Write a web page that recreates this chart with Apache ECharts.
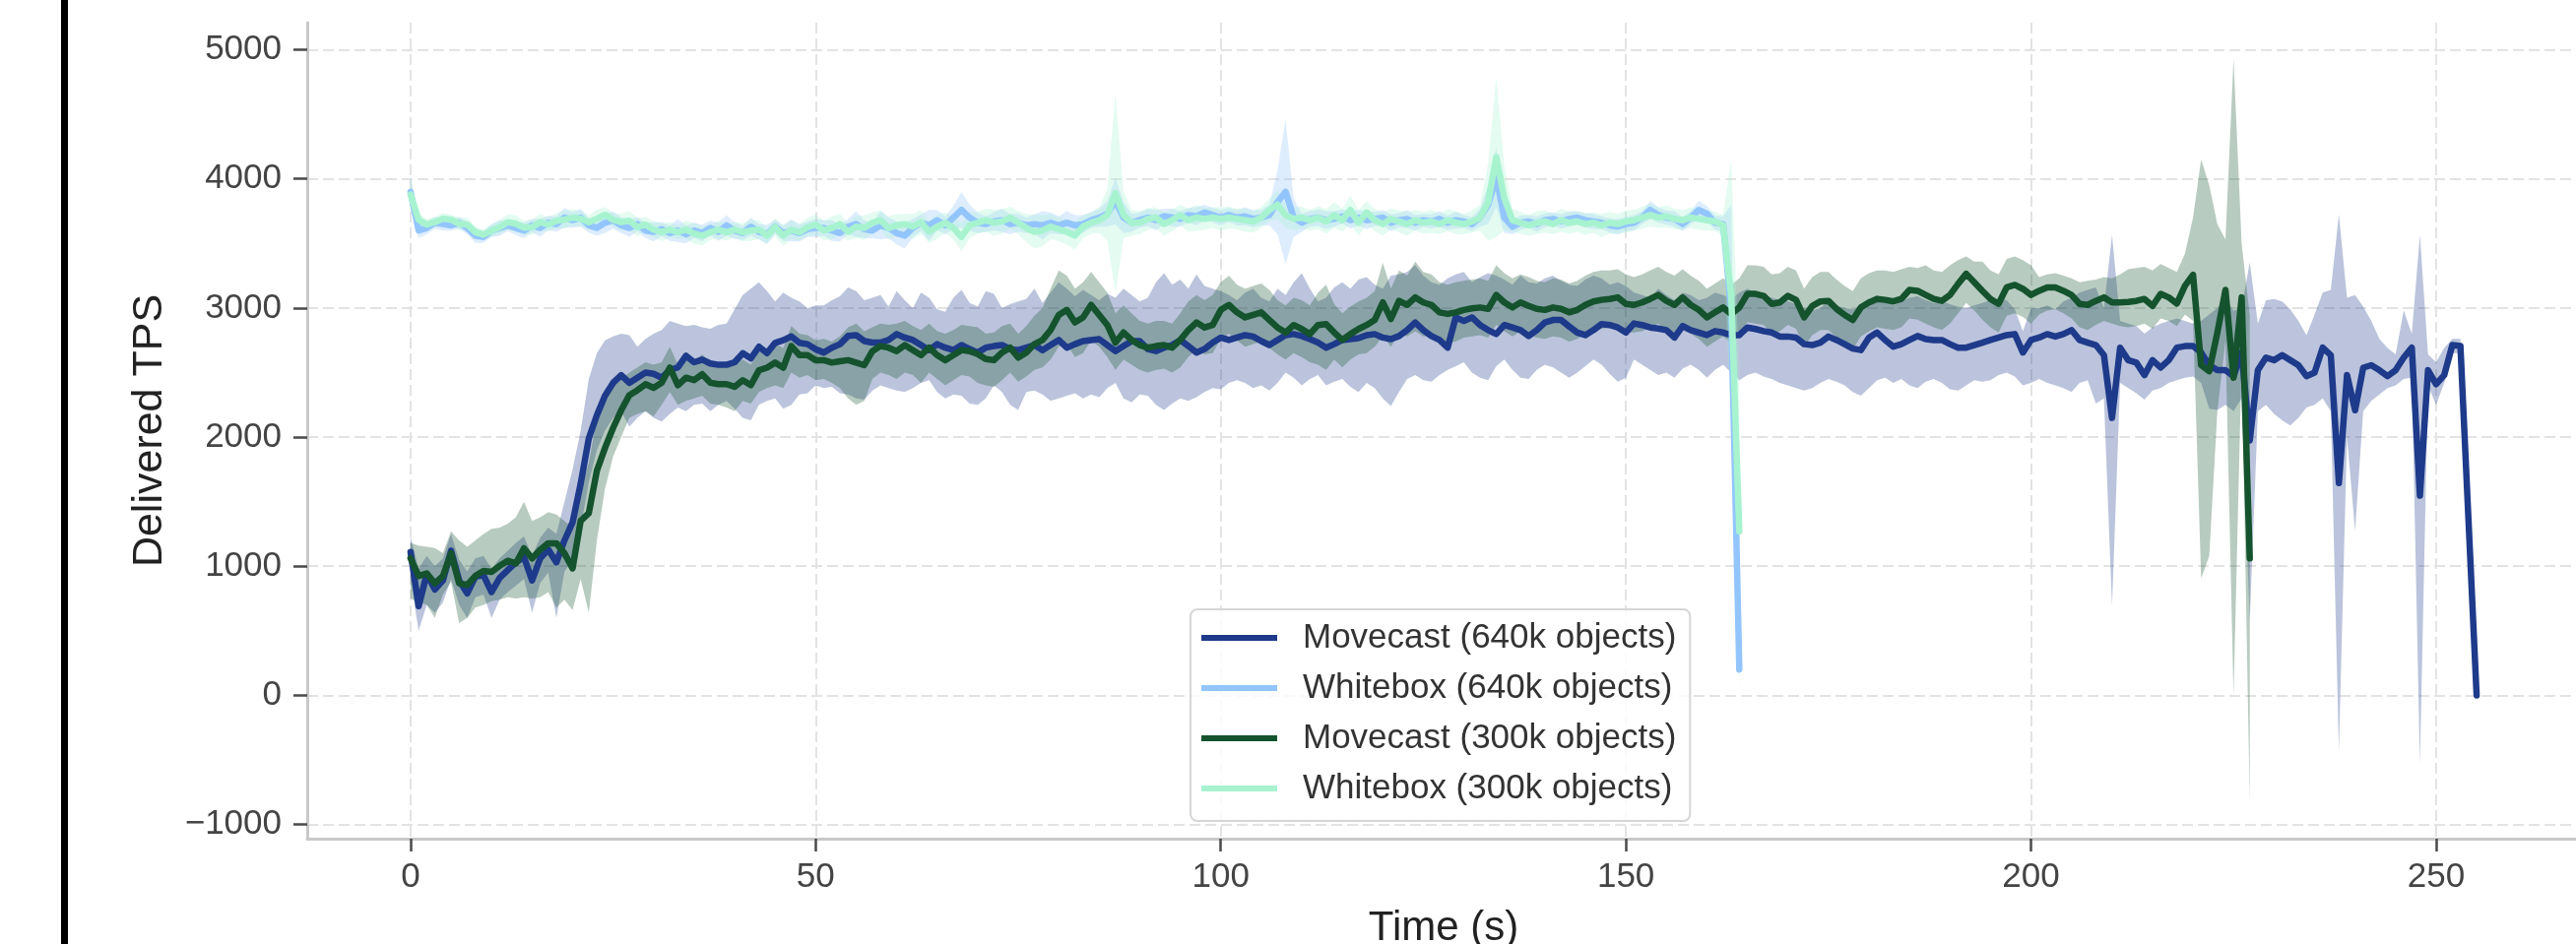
<!DOCTYPE html>
<html>
<head>
<meta charset="utf-8">
<script src="https://cdn.jsdelivr.net/npm/echarts@6/dist/echarts.min.js"></script>
<style>html,body{margin:0;padding:0;background:#fff;}#c{width:2616px;height:959px;}</style>
</head>
<body>
<div id="c"></div>
<script>
// ---------------- data ----------------
const seconds = [0,1,2,3,4,5,6,7,8,9,10,11,12,13,14,15,16,17,18,19,20,21,22,23,24,25,26,27,28,29,30,31,32,33,34,35,36,37,38,39,40,41,42,43,44,45,46,47,48,49,50,51,52,53,54,55,56,57,58,59,60,61,62,63,64,65,66,67,68,69,70,71,72,73,74,75,76,77,78,79,80,81,82,83,84,85,86,87,88,89,90,91,92,93,94,95,96,97,98,99,100,101,102,103,104,105,106,107,108,109,110,111,112,113,114,115,116,117,118,119,120,121,122,123,124,125,126,127,128,129,130,131,132,133,134,135,136,137,138,139,140,141,142,143,144,145,146,147,148,149,150,151,152,153,154,155,156,157,158,159,160,161,162,163,164,165,166,167,168,169,170,171,172,173,174,175,176,177,178,179,180,181,182,183,184,185,186,187,188,189,190,191,192,193,194,195,196,197,198,199,200,201,202,203,204,205,206,207,208,209,210,211,212,213,214,215,216,217,218,219,220,221,222,223,224,225,226,227,228,229,230,231,232,233,234,235,236,237,238,239,240,241,242,243,244,245,246,247,248,249,250,251,252,253,254,255];

const seriesNames = ['Movecast (640k objects)', 'Whitebox (640k objects)', 'Movecast (300k objects)', 'Whitebox (300k objects)'];
const seriesColors = ['#1e3a8a', '#93c5fd', '#14532d', '#a7f3d0'];
const xTicks = [0, 50, 100, 150, 200, 250];
const yTicks = [-1000, 0, 1000, 2000, 3000, 4000, 5000];

// Movecast (640k objects): mean and CI, t = 0..255
const movecast640Mean = [1110,690,940,820,890,1120,890,790,920,930,800,910,970,1030,1070,890,1060,1130,1030,1200,1340,
1640,1990,2170,2320,2420,2480,2420,2460,2500,2490,2460,2520,2540,2630,2580,2600,2570,2560,2560,2580,2650,2610,2700,2650,2730,2750,2780,2730,2720,2680,
2655,2693,2720,2783,2790,2744,2732,2732,2752,2798,2771,2752,2713,2674,2720,2693,2674,2713,2682,2655,2693,2705,2713,2682,2674,2693,2713,2674,2713,2752,2693,2720,2744,2752,2759,2713,2666,2705,2744,2744,2682,2666,2693,2713,2752,2705,2655,2682,2732,2771,
2752,2771,2790,2779,2744,2713,2752,2790,2798,2783,2759,2732,2693,2720,2752,2759,2767,2790,2798,2771,2759,2783,2829,2888,2829,2783,2752,2693,2927,2899,2927,2868,2829,2798,2868,2849,2829,2783,2829,2888,2907,2907,2857,2810,2790,2829,2876,2868,2849,2810,
2880,2868,2849,2841,2829,2771,2860,2829,2810,2790,2821,2810,2790,2790,2849,2837,2821,2810,2779,2779,2771,2720,2713,2732,2779,2752,2720,2686,2674,2771,2810,2752,2701,2720,2752,2783,2759,2752,2752,2720,2693,2693,2713,2732,2752,2771,2790,2798,2655,2752,
2771,2798,2779,2798,2829,2752,2732,2713,2635,2149,2693,2596,2577,2480,2596,2538,2596,2693,2705,2705,2655,2557,2518,2518,2472,2655,1974,2518,2616,2596,2635,2596,2557,2472,2499,2693,2635,1644,2480,2208,2538,2557,2518,2472,2518,2616,2693,1547,2518,2410,2480,2713,2705,1352,0];
const movecast640Low = [900,500,700,640,720,900,700,600,760,780,600,740,800,850,900,640,870,950,600,960,1050,
1300,1650,1900,2050,2150,2200,2080,2150,2200,2150,2120,2180,2230,2200,2250,2260,2200,2250,2280,2220,2150,2130,2250,2280,2300,2220,2250,2330,2340,2400,
2380,2390,2340,2330,2300,2290,2360,2400,2380,2360,2350,2380,2420,2440,2350,2300,2330,2320,2260,2250,2300,2400,2350,2250,2210,2350,2360,2330,2280,2300,2320,2340,2300,2330,2310,2380,2420,2300,2270,2330,2320,2250,2210,2260,2300,2280,2310,2350,2380,2370,
2420,2440,2420,2380,2400,2360,2420,2500,2460,2400,2450,2480,2400,2430,2450,2390,2350,2420,2380,2300,2240,2350,2450,2480,2440,2430,2480,2520,2550,2580,2500,2460,2440,2550,2600,2520,2460,2450,2520,2560,2540,2500,2460,2500,2550,2600,2560,2490,2430,2460,
2600,2560,2520,2480,2500,2460,2530,2560,2520,2460,2520,2560,2500,2440,2480,2500,2470,2450,2420,2400,2380,2360,2380,2420,2450,2430,2400,2350,2320,2380,2440,2460,2420,2450,2400,2380,2430,2450,2420,2370,2360,2400,2440,2430,2440,2480,2500,2470,2400,2420,
2450,2420,2400,2380,2350,2420,2440,2260,2300,692,2420,2380,2340,2290,2360,2380,2420,2440,2460,2470,2420,2220,2210,2250,2200,2300,575,2200,2250,2180,2130,2090,2150,2230,2250,2300,2200,-435,2000,1275,2200,2280,2330,2380,2400,2450,2460,-532,2400,2250,2420,2650,2650,1352,0];
const movecast640High = [1230,980,1080,1000,1060,1250,1050,960,1060,1080,980,1060,1120,1180,1230,1080,1220,1300,1250,1500,1750,
2050,2450,2650,2750,2780,2800,2790,2700,2760,2800,2830,2900,2880,2860,2870,2850,2840,2870,2880,2990,3100,3150,3200,3130,3050,3120,3080,3050,3000,3020,
3020,3060,3090,3160,3130,3060,3080,3100,3010,3130,3060,3000,3120,3080,2990,2970,3080,3140,3040,3010,3130,3110,3000,3030,3050,3070,3150,3040,3120,3200,3150,3090,3140,3100,3060,3110,3080,3150,3100,3050,3080,3200,3270,3180,3220,3150,3260,3170,3150,3130,
3100,3060,3120,3150,3080,3050,3150,3100,3200,3270,3150,3050,3080,3160,3200,3150,3220,3240,3180,3150,3250,3260,3280,3330,3250,3200,3180,3230,3260,3280,3200,3240,3270,3250,3220,3180,3250,3200,3190,3230,3250,3210,3180,3170,3220,3250,3230,3180,3200,3170,
3120,3100,3080,3150,3100,3060,3120,3100,3060,3080,3120,3100,3070,3120,3150,3120,3100,3080,3060,3050,3030,3000,2980,3000,3050,3020,3000,2990,3010,3060,3100,3060,3020,3050,3080,3090,3060,3040,3050,3030,3010,3000,3020,3040,3060,3070,3060,2990,2820,3000,
3000,3020,2990,3050,3080,3120,3140,3160,3000,3568,2900,2880,2860,2800,2850,2880,2900,2920,2900,2880,2900,2950,3000,3070,2980,3000,3354,2880,3060,3070,3050,2990,2900,2790,2950,3120,3140,3723,3080,3100,3010,2900,2760,2690,2640,2980,2800,3568,2640,2580,2690,2760,2760,1352,0];

// Movecast (300k objects): mean and CI, t = 0..227
const movecast300Mean = [1061,925,944,867,925,1100,867,855,925,964,956,1003,1042,1022,1139,1061,1127,1178,1178,1100,983,
1352,1411,1741,1916,2071,2208,2324,2363,2410,2382,2421,2538,2402,2460,2441,2487,2421,2410,2410,2390,2441,2402,2518,2538,2577,2538,2705,2635,2635,2596,
2596,2577,2588,2596,2577,2557,2666,2705,2693,2666,2713,2674,2635,2693,2635,2596,2635,2674,2666,2643,2604,2596,2655,2693,2616,2655,2720,2752,2829,2946,2985,2888,2927,3024,2946,2868,2732,2810,2752,2713,2693,2705,2713,2693,2752,2829,2888,2849,2868,2985,
3024,2966,2927,2946,2966,2907,2849,2810,2868,2837,2798,2868,2876,2810,2752,2798,2837,2868,2907,3043,2915,3055,3024,3082,3043,3024,2966,2954,2966,2985,2997,3004,2993,3101,3043,3004,3043,3016,2993,2985,3004,2993,2966,2985,3024,3051,3063,3070,3082,3032,
3024,3043,3070,3101,3055,3024,3082,3024,2985,2927,2966,3004,2954,3004,3109,3109,3094,3032,3043,3094,3063,2927,3016,3051,3055,2993,2946,2907,3004,3043,3070,3063,3051,3070,3140,3133,3101,3070,3055,3101,3187,3265,3199,3133,3070,3032,3160,3179,3148,3101,
3133,3160,3160,3133,3101,3032,3024,3055,3082,3043,3043,3047,3055,3070,3016,3109,3082,3035,3171,3257,2557,2511,2810,3140,2460,3082,1061];
const movecast300Low = [750,720,700,600,780,880,560,600,680,700,730,740,760,750,760,750,760,800,680,740,660,
900,640,1200,1600,1850,2000,2150,2180,2200,2160,2250,2350,2250,2280,2300,2320,2260,2250,2230,2200,2280,2260,2350,2380,2400,2380,2500,2460,2480,2440,
2450,2420,2380,2300,2250,2280,2450,2500,2480,2450,2500,2480,2420,2500,2450,2400,2440,2480,2470,2420,2400,2390,2440,2500,2430,2470,2520,2540,2600,2700,2720,2620,2650,2750,2700,2620,2520,2600,2560,2520,2500,2520,2530,2500,2540,2620,2680,2640,2650,2760,
2800,2750,2700,2720,2740,2690,2640,2600,2650,2620,2580,2560,2520,2600,2540,2600,2640,2650,2700,2780,2700,2800,2780,2820,2780,2780,2750,2730,2740,2770,2780,2790,2770,2870,2820,2780,2820,2790,2770,2760,2780,2770,2740,2760,2800,2820,2840,2850,2860,2810,
2810,2820,2850,2880,2830,2800,2860,2800,2760,2700,2740,2780,2730,2780,2890,2880,2870,2800,2820,2870,2840,2700,2790,2830,2830,2770,2720,2680,2780,2820,2850,2840,2830,2850,2920,2910,2880,2850,2830,2880,2960,3040,2980,2910,2850,2810,2940,2960,2930,2880,
2950,2980,2990,2960,2920,2850,2830,2870,2900,2880,2860,2850,2860,2880,2840,2920,2900,2860,2950,2900,906,1080,2200,2750,0,2600,-824];
const movecast300High = [1180,1160,1150,1140,1100,1270,1200,1150,1200,1250,1290,1300,1330,1380,1500,1350,1380,1420,1400,1350,1300,
1600,1800,2150,2300,2400,2450,2500,2540,2580,2560,2580,2700,2560,2620,2590,2640,2580,2560,2580,2580,2600,2560,2670,2690,2720,2690,2860,2800,2790,2750,
2760,2740,2780,2850,2880,2820,2850,2880,2870,2880,2900,2860,2830,2880,2820,2800,2830,2870,2860,2850,2800,2810,2860,2880,2800,2860,2940,3000,3150,3290,3250,3150,3200,3280,3200,3120,2960,3020,2960,2900,2880,2900,2900,2880,2960,3050,3100,3060,3100,3200,
3250,3180,3150,3170,3190,3140,3060,3020,3080,3060,3020,3120,3180,3030,2960,3010,3050,3080,3130,3350,3150,3290,3250,3360,3280,3260,3200,3180,3200,3210,3220,3230,3210,3330,3270,3230,3260,3240,3210,3200,3230,3220,3190,3210,3250,3280,3290,3290,3300,3260,
3240,3260,3290,3320,3280,3250,3300,3250,3210,3150,3190,3230,3180,3230,3330,3330,3320,3260,3270,3320,3290,3150,3240,3280,3280,3220,3170,3130,3230,3270,3290,3290,3280,3300,3320,3310,3330,3290,3280,3330,3370,3400,3360,3360,3290,3260,3380,3400,3370,3330,
3240,3260,3270,3250,3230,3200,3210,3220,3240,3230,3260,3300,3310,3320,3290,3340,3310,3280,3420,3700,4150,3950,3650,3530,4928,3500,2940];

// Whitebox (640k objects): mean and CI half-width, t = 0..164
const whitebox640Mean = [3900,3600,3620,3660,3650,3640,3660,3620,3560,3550,3600,3620,3640,3620,3600,3640,3620,3660,3650,3700,3680,3700,3640,3620,3660,3680,3640,3620,3650,3600,3590,3610,3580,3600,3570,3600,3580,3620,3590,3640,3600,3580,3630,3590,3570,3630,3580,3600,3580,3610,3620,
3620,3600,3580,3630,3650,3610,3600,3640,3620,3580,3560,3620,3660,3640,3680,3640,3700,3760,3700,3660,3650,3670,3680,3650,3660,3640,3650,3640,3660,3640,3660,3640,3650,3680,3700,3730,3830,3700,3660,3680,3700,3680,3710,3700,3690,3720,3710,3740,3720,3700,
3720,3700,3710,3690,3700,3720,3820,3900,3700,3660,3690,3700,3680,3690,3710,3680,3700,3680,3690,3700,3660,3680,3690,3660,3680,3670,3690,3660,3680,3670,3650,3700,3800,4010,3700,3630,3660,3670,3650,3680,3690,3670,3690,3700,3680,3670,3660,3640,3630,3650,
3660,3700,3760,3720,3700,3690,3650,3700,3760,3730,3660,3650,3000,200];
const whitebox640Err = [130,60,50,45,50,40,45,50,55,45,50,60,45,55,60,50,70,55,60,75,60,70,55,60,80,65,60,70,55,60,75,55,60,90,70,60,65,55,70,80,65,55,70,60,75,55,60,85,65,60,70,
60,80,65,60,100,70,60,110,80,90,100,70,65,120,80,70,90,140,100,80,60,70,90,80,70,60,75,110,80,70,90,80,70,60,70,100,180,120,70,60,65,80,60,70,60,55,70,60,55,60,
55,60,70,65,60,80,250,560,150,70,60,65,70,60,55,65,60,70,55,60,65,55,70,60,50,55,60,55,65,50,55,70,150,230,120,60,55,50,60,55,50,55,60,50,55,60,50,55,60,55,
60,50,70,60,55,60,55,50,70,60,55,60,800,50];

// Whitebox (300k objects): mean and CI half-width, t = 0..164
const whitebox300Mean = [3879,3684,3646,3665,3692,3684,3653,3646,3587,3568,3599,3626,3665,3653,3622,3626,3665,3646,3676,3684,3700,3692,3665,3692,3723,3684,3665,3676,3626,3646,3607,3587,3607,3587,3607,3576,3560,3587,3607,3587,3607,3587,3599,3607,3560,3626,3560,3607,3587,3626,3646,
3600,3620,3650,3590,3630,3620,3660,3680,3620,3640,3650,3630,3665,3590,3630,3660,3620,3550,3640,3660,3680,3660,3670,3700,3660,3620,3590,3600,3630,3610,3590,3560,3630,3660,3680,3720,3890,3720,3660,3660,3690,3700,3650,3680,3720,3680,3700,3690,3700,3690,
3700,3690,3680,3670,3700,3760,3800,3720,3690,3700,3680,3700,3670,3720,3680,3760,3660,3740,3680,3650,3690,3670,3650,3680,3660,3670,3650,3680,3660,3650,3670,3700,3820,4170,3850,3680,3660,3640,3660,3670,3650,3680,3660,3670,3650,3660,3640,3660,3650,3670,
3680,3700,3720,3700,3710,3690,3680,3700,3690,3680,3670,3640,3100,1270];
const whitebox300Err = [120,50,45,40,45,40,50,55,45,40,50,55,60,65,55,60,65,55,60,70,65,60,55,70,60,55,65,75,70,60,65,70,60,55,70,80,75,60,70,65,60,70,80,75,60,70,80,75,65,70,80,
75,90,80,70,85,95,80,75,90,85,80,100,90,85,95,80,90,110,100,85,90,100,95,85,90,110,130,120,100,90,100,110,90,85,100,200,770,180,100,90,85,80,90,85,80,90,100,85,80,90,
85,80,90,85,80,90,110,100,90,85,80,90,95,100,90,110,100,90,85,90,80,85,90,80,85,90,80,85,90,80,85,100,300,620,250,90,85,80,90,85,80,90,85,80,85,80,90,85,80,85,
80,85,90,80,85,80,75,80,85,80,75,80,1050,1220];

// ---------------- chart ----------------
const FONT = '"Liberation Sans", Arial, Helvetica, sans-serif';
const chart = echarts.init(document.getElementById('c'), null, {renderer: 'canvas', width: 2616, height: 959});

function bandSeries(name, t, lo, hi, color) {
  const data = t.map((x, i) => [x, lo[i], hi[i]]);
  return {
    type: 'custom', name: name + ' CI', z: 1, silent: true, animation: false,
    data: data,
    encode: {x: 0, y: [1, 2]},
    renderItem: function (params, api) {
      if (params.dataIndex !== 0) return null;
      const top = [], bot = [];
      for (let i = 0; i < data.length; i++) {
        top.push(api.coord([data[i][0], data[i][2]]));
        bot.push(api.coord([data[i][0], data[i][1]]));
      }
      return {type: 'polygon', shape: {points: top.concat(bot.reverse())},
              style: {fill: color, opacity: 0.3}};
    }
  };
}
function lineSeries(name, t, v, color) {
  return {
    type: 'line', name: name, z: 3, showSymbol: false, symbol: 'none', silent: true, animation: false,
    data: t.map((x, i) => [x, v[i]]),
    itemStyle: {color: color},
    lineStyle: {color: color, width: 6.5, cap: 'round', join: 'round'},
    emphasis: {disabled: true}
  };
}
const t640 = seconds.slice(0, movecast640Mean.length);
const t300 = seconds.slice(0, movecast300Mean.length);
const tWb = seconds.slice(0, whitebox640Mean.length);
const wb640Lo = whitebox640Mean.map((v, i) => v - whitebox640Err[i]);
const wb640Hi = whitebox640Mean.map((v, i) => v + whitebox640Err[i]);
const wb300Lo = whitebox300Mean.map((v, i) => v - whitebox300Err[i]);
const wb300Hi = whitebox300Mean.map((v, i) => v + whitebox300Err[i]);

const option = {
  animation: false,
  backgroundColor: '#ffffff',
  textStyle: {fontFamily: FONT},
  graphic: [{type: 'rect', left: 62, top: 0, shape: {width: 7, height: 959}, style: {fill: '#000'}, z: 100}],
  grid: {left: 312, top: 23, width: 2308, height: 829, containLabel: false, outerBoundsMode: 'none'},
  xAxis: {
    type: 'value', min: -12.75, max: 267.75,
    name: 'Time (s)', nameLocation: 'middle', nameGap: 70,
    nameTextStyle: {fontSize: 42, color: '#222', fontFamily: FONT},
    axisLine: {show: true, onZero: false, lineStyle: {color: '#c8c8c8', width: 3}},
    axisTick: {show: true, customValues: xTicks, length: 13, lineStyle: {color: '#4a4a4a', width: 2.5}},
    axisLabel: {customValues: xTicks, margin: 22, fontSize: 35, color: '#444', fontFamily: FONT},
    splitLine: {show: true, lineStyle: {color: '#e3e3e3', width: 2, type: [11, 5]}}
  },
  yAxis: {
    type: 'value', min: -1110, max: 5210,
    name: 'Delivered TPS', nameLocation: 'middle', nameGap: 138, nameRotate: 90,
    nameTextStyle: {fontSize: 43, color: '#222', fontFamily: FONT},
    axisLine: {show: true, onZero: false, lineStyle: {color: '#c8c8c8', width: 3}},
    axisTick: {show: true, customValues: yTicks, length: 14, lineStyle: {color: '#4a4a4a', width: 2.5}},
    axisLabel: {customValues: yTicks, margin: 26, fontSize: 35, color: '#444', fontFamily: FONT,
      formatter: v => (v < 0 ? '\u2212' + Math.abs(v) : String(v))},
    splitLine: {show: true, lineStyle: {color: '#e3e3e3', width: 2, type: [11, 5]}}
  },
  legend: {
    data: seriesNames, orient: 'vertical', left: 1209, top: 619,
    icon: 'rect', itemWidth: 77, itemHeight: 6, itemGap: 11,
    padding: [9, 14, 13, 11],
    backgroundColor: 'rgba(255,255,255,0.8)', borderColor: '#d6d6d6', borderWidth: 2, borderRadius: 7,
    textStyle: {fontSize: 35, color: '#333', fontFamily: FONT, lineHeight: 40, padding: [0, 0, 0, 21]},
    selectedMode: false
  },
  series: [
    bandSeries(seriesNames[0], t640, movecast640Low, movecast640High, seriesColors[0]),
    bandSeries(seriesNames[1], tWb, wb640Lo, wb640Hi, seriesColors[1]),
    bandSeries(seriesNames[2], t300, movecast300Low, movecast300High, seriesColors[2]),
    bandSeries(seriesNames[3], tWb, wb300Lo, wb300Hi, seriesColors[3]),
    lineSeries(seriesNames[0], t640, movecast640Mean, seriesColors[0]),
    lineSeries(seriesNames[1], tWb, whitebox640Mean, seriesColors[1]),
    lineSeries(seriesNames[2], t300, movecast300Mean, seriesColors[2]),
    lineSeries(seriesNames[3], tWb, whitebox300Mean, seriesColors[3])
  ]
};
chart.setOption(option);
</script>
</body>
</html>
